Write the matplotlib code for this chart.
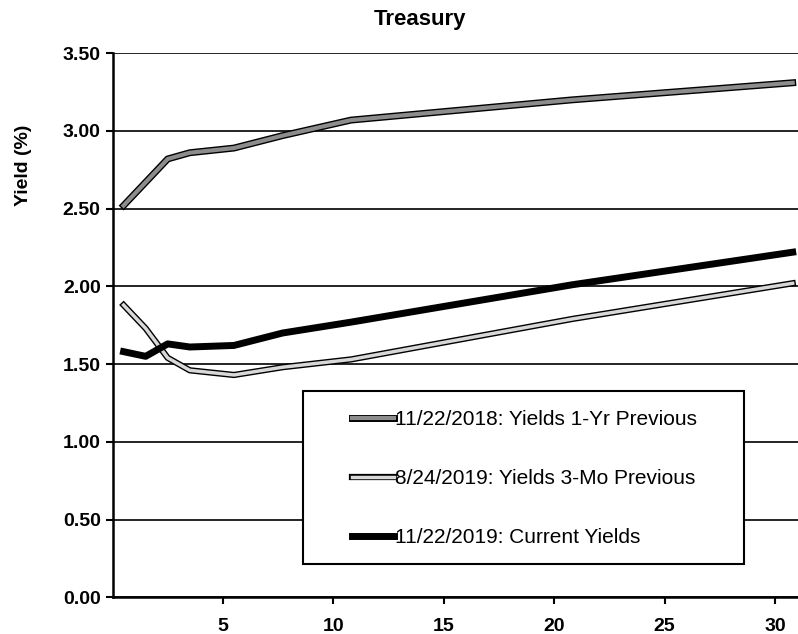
import matplotlib.pyplot as plt
import matplotlib.patheffects as pe
import matplotlib.patches as mpatches
import numpy as np

plt.rcParams['font.family'] = ['Liberation Sans', 'DejaVu Sans']

# maturities as placed on the chart (years)
maturity = [0.5, 1.5, 2.5, 3.5, 5.5, 7.7, 10.8, 20.8, 30.8]

yld_1yr = [2.52, 2.67, 2.82, 2.86, 2.89, 2.97, 3.07, 3.20, 3.31]
yld_3mo = [1.88, 1.73, 1.54, 1.46, 1.43, 1.48, 1.53, 1.79, 2.02]
yld_now = [1.58, 1.55, 1.63, 1.61, 1.62, 1.70, 1.77, 2.01, 2.22]

labels = ["11/22/2018: Yields 1-Yr Previous",
          "8/24/2019: Yields 3-Mo Previous",
          "11/22/2019: Current Yields"]

W, H = 798, 634
fig = plt.figure(figsize=(W / 100, H / 100), dpi=100)
ax = fig.add_axes([0.141, 0.058, 0.859, 0.858])

ax.plot(maturity, yld_1yr, color='#8c8c8c', lw=3.0, label=labels[0],
        path_effects=[pe.Stroke(linewidth=5, foreground='black'), pe.Normal()])
ax.plot(maturity, yld_3mo, color='#d8d8d8', lw=2.5, label=labels[1],
        path_effects=[pe.Stroke(linewidth=4.5, foreground='black'), pe.Normal()])
ax.plot(maturity, yld_now, color='black', lw=5, label=labels[2])

ax.set_xlim(0, 31.04)
ax.set_ylim(0, 3.5)
yt = np.arange(0, 3.51, 0.5)
ax.set_yticks(yt)
ax.set_yticklabels([f"{v:.2f}" for v in yt])
ax.set_xticks([5, 10, 15, 20, 25, 30])
ax.grid(axis='y', color='black', lw=1.2)
ax.set_axisbelow(True)
for s in ['top', 'right']:
    ax.spines[s].set_visible(False)
ax.spines['left'].set_linewidth(1.8)
ax.spines['bottom'].set_linewidth(1.8)
ax.tick_params(axis='both', labelsize=14, length=5, width=1.5, direction='out')
ax.tick_params(axis='x', pad=10)
for t in ax.get_xticklabels() + ax.get_yticklabels():
    t.set_fontweight('bold')

fig.text(420 / W, 1 - 20 / H, "Treasury", ha='center', va='center',
         fontsize=16, fontweight='bold')
fig.text(23 / W, 1 - 165 / H, "Yield (%)", ha='center', va='center',
         rotation=90, fontsize=14, fontweight='bold')

# legend box drawn separately (handles sit off-centre in the original)
box = mpatches.Rectangle((303 / W, 1 - 564 / H), (744 - 303) / W, (564 - 391) / H,
                         transform=fig.transFigure, facecolor='white',
                         edgecolor='black', lw=1.5, zorder=4, clip_on=False)
ax.add_artist(box)

leg = ax.legend(loc='upper left', bbox_to_anchor=(352 / W, 1 - 410 / H),
                bbox_transform=fig.transFigure, fontsize=15, frameon=False,
                handlelength=2.0, handletextpad=0.05, labelspacing=1.92,
                borderpad=0, borderaxespad=0)
leg.set_zorder(5)

fig.savefig("out.png", dpi=100)
